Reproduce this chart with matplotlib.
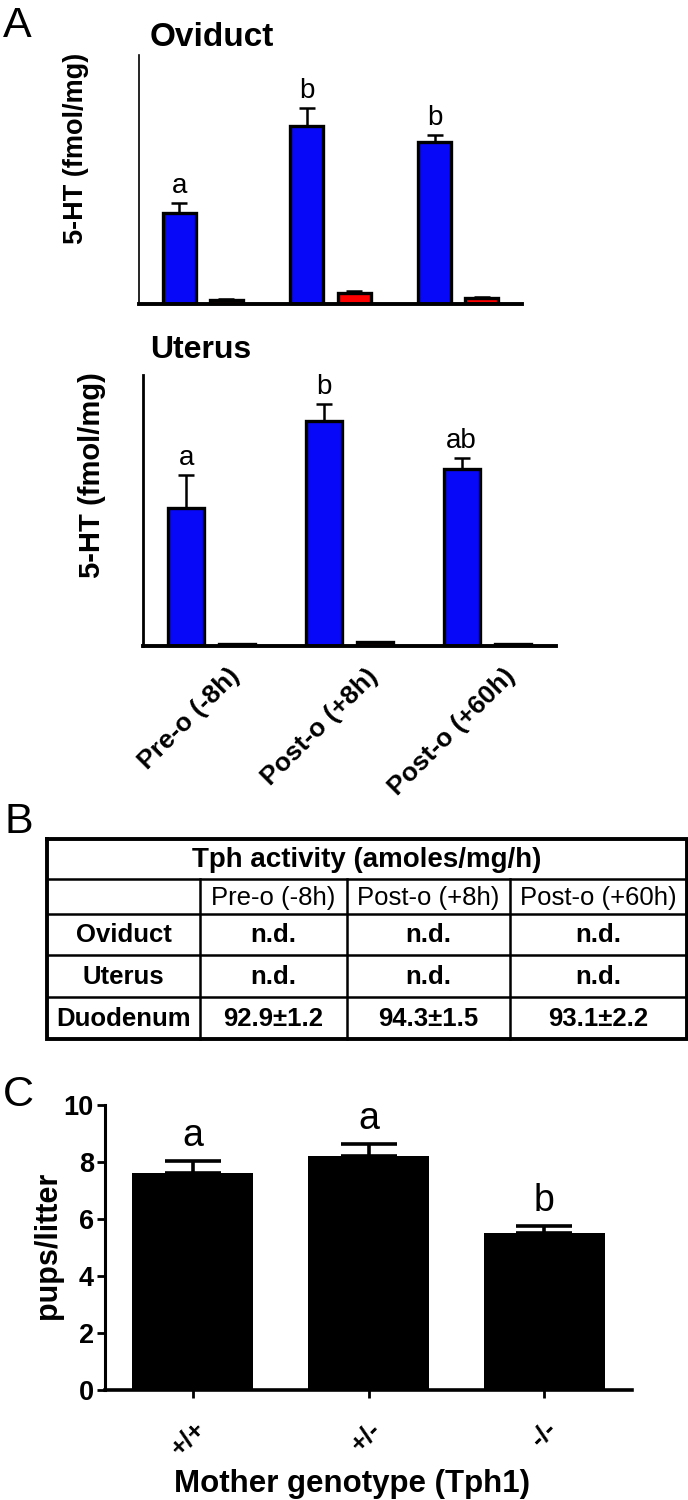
import numpy as np
import matplotlib
matplotlib.use("Agg")
import matplotlib.pyplot as plt
from matplotlib.transforms import ScaledTranslation

plt.rcParams['font.family'] = ['Liberation Sans', 'DejaVu Sans']

# ---------------- data ----------------
time_points = ["Pre-o (-8h)", "Post-o (+8h)", "Post-o (+60h)"]

ovi_blue = [36.5, 71.5, 65.1]
ovi_blue_err = [4.0, 7.2, 2.8]
ovi_red = [1.6, 4.3, 2.5]
ovi_red_err = [0.4, 0.9, 0.3]
ovi_letters = ["a", "b", "b"]

ute_blue = [50.9, 83.0, 65.3]
ute_blue_err = [12.2, 6.3, 4.1]
ute_red = [0.6, 1.5, 0.6]
ute_red_err = [0.0, 0.0, 0.0]
ute_letters = ["a", "b", "ab"]

table_title = "Tph activity (amoles/mg/h)"
table_cols = ["Pre-o (-8h)", "Post-o (+8h)", "Post-o (+60h)"]
table_rows = ["Oviduct", "Uterus", "Duodenum"]
table_vals = [["n.d.", "n.d.", "n.d."],
              ["n.d.", "n.d.", "n.d."],
              ["92.9\u00b11.2", "94.3\u00b11.5", "93.1\u00b12.2"]]

genotypes = ["+/+", "+/-", "-/-"]
pups = [7.6, 8.2, 5.5]
pups_err = [0.42, 0.43, 0.25]
pups_letters = ["a", "a", "b"]
pups_yticks = [0, 2, 4, 6, 8, 10]

# ---------------- layout helpers ----------------
W, H = 688, 1500
fig = plt.figure(figsize=(W / 100, H / 100), dpi=100)


def rect(l, t, r, b):
    return [l / W, 1 - b / H, (r - l) / W, (b - t) / H]


def ftext(x, y, s, **kw):
    return fig.text(x / W, 1 - y / H, s, **kw)


BLUE = '#0808F8'
RED = '#FF0000'


def panel_a(ax, blue, blue_err, red, red_err, letters, left_lw, show_labels):
    x = np.arange(len(blue))
    off, w = 0.185, 0.26
    ax.errorbar(x - off, blue, yerr=[np.zeros(len(blue)), blue_err], fmt='none',
                ecolor='black', elinewidth=1.8, capsize=5.5, capthick=1.8, zorder=1)
    ax.errorbar(x + off, red, yerr=[np.zeros(len(red)), red_err], fmt='none',
                ecolor='black', elinewidth=1.8, capsize=5.5, capthick=1.8, zorder=1)
    ax.bar(x - off, blue, w, color=BLUE, edgecolor='black', linewidth=2.4, zorder=2)
    ax.bar(x + off, red, w, color=RED, edgecolor='black', linewidth=2.4, zorder=2)
    for xi, v, e, s in zip(x, blue, blue_err, letters):
        ax.annotate(s, (xi - off, v + e), xytext=(0, 7), textcoords='offset points',
                    ha='center', va='baseline', fontsize=20)
    ax.set_xlim(-0.5, 2.5)
    ax.set_ylim(0, 100)
    ax.set_yticks([])
    for sp in ['top', 'right']:
        ax.spines[sp].set_visible(False)
    ax.spines['left'].set_linewidth(left_lw)
    ax.spines['bottom'].set_linewidth(2.8)
    if show_labels:
        ax.set_xticks(x)
        ax.set_xticklabels(time_points, rotation=45, ha='right', va='top',
                           rotation_mode='anchor', fontsize=19, fontweight='bold')
        ax.tick_params(axis='x', length=0, pad=13)
        for lab in ax.get_xticklabels():
            lab.set_transform(lab.get_transform() +
                              ScaledTranslation(16 / 100, 0, fig.dpi_scale_trans))
    else:
        ax.set_xticks([])


# ---------------- Panel A ----------------
ftext(3, 37, "A", fontsize=31, va='baseline', ha='left')

ax1 = fig.add_axes(rect(139, 55, 522, 304))
panel_a(ax1, ovi_blue, ovi_blue_err, ovi_red, ovi_red_err, ovi_letters, 1.2, False)
ftext(150, 46, "Oviduct", fontsize=24, fontweight='bold', va='baseline', ha='left')
ftext(76, 148, "5-HT (fmol/mg)", fontsize=19.5, fontweight='bold', rotation=90,
      ha='center', va='center')

ax2 = fig.add_axes(rect(143, 375, 556, 646))
panel_a(ax2, ute_blue, ute_blue_err, ute_red, ute_red_err, ute_letters, 2.0, True)
ftext(150, 358, "Uterus", fontsize=23, fontweight='bold', va='baseline', ha='left')
ftext(92, 475, "5-HT (fmol/mg)", fontsize=21, fontweight='bold', rotation=90,
      ha='center', va='center')

# ---------------- Panel B (table) ----------------
ftext(5, 833, "B", fontsize=31, va='baseline', ha='left')

axt = fig.add_axes(rect(47, 839, 687, 1039))
axt.set_xlim(0, 640)
axt.set_ylim(200, 0)
axt.axis('off')
col_edges = [0, 153, 300, 463, 640]
row_edges = [0, 40, 75, 116, 158, 200]
axt.plot([0, 640, 640, 0, 0], [0, 0, 200, 200, 0], color='black', lw=2.8,
         solid_joinstyle='miter', clip_on=False)
for yv in row_edges[1:-1]:
    axt.plot([0, 640], [yv, yv], color='black', lw=1.8, clip_on=False)
for xv in col_edges[1:-1]:
    axt.plot([xv, xv], [row_edges[1], 200], color='black', lw=1.8, clip_on=False)
axt.text(320, 21, table_title, ha='center', va='center', fontsize=20, fontweight='bold')
for j, c in enumerate(table_cols):
    axt.text((col_edges[j + 1] + col_edges[j + 2]) / 2, (row_edges[1] + row_edges[2]) / 2 + 1,
             c, ha='center', va='center', fontsize=18.5)
for i, rlab in enumerate(table_rows):
    yc = (row_edges[i + 2] + row_edges[i + 3]) / 2 + 1
    axt.text((col_edges[0] + col_edges[1]) / 2, yc, rlab, ha='center', va='center',
             fontsize=18.5, fontweight='bold')
    for j, v in enumerate(table_vals[i]):
        axt.text((col_edges[j + 1] + col_edges[j + 2]) / 2, yc, v, ha='center',
                 va='center', fontsize=18.5, fontweight='bold')

# ---------------- Panel C ----------------
ftext(3, 1106, "C", fontsize=31, va='baseline', ha='left')

ax3 = fig.add_axes(rect(105, 1105, 632, 1390))
xc = np.arange(len(pups))
ax3.errorbar(xc, pups, yerr=[np.zeros(len(pups)), pups_err], fmt='none', ecolor='black',
             elinewidth=2.6, capsize=20, capthick=2.6, zorder=1)
ax3.bar(xc, pups, 0.69, color='black', zorder=2)
for xi, v, e, s in zip(xc, pups, pups_err, pups_letters):
    ax3.annotate(s, (xi, v + e), xytext=(0, 11), textcoords='offset points',
                 ha='center', va='baseline', fontsize=27)
ax3.set_xlim(-0.5, 2.5)
ax3.set_ylim(0, 10)
ax3.set_yticks(pups_yticks)
ax3.set_yticklabels([str(t) for t in pups_yticks], fontsize=19.5, fontweight='bold')
ax3.set_xticks(xc)
ax3.set_xticklabels(genotypes, rotation=45, ha='right', va='top', rotation_mode='anchor',
                    fontsize=19, fontweight='bold')
for lab in ax3.get_xticklabels():
    lab.set_transform(lab.get_transform() +
                      ScaledTranslation(8 / 100, 0, fig.dpi_scale_trans))
ax3.tick_params(axis='both', length=6, width=2, direction='out')
ax3.tick_params(axis='x', pad=13)
ax3.tick_params(axis='y', pad=2)
for sp in ['top', 'right']:
    ax3.spines[sp].set_visible(False)
ax3.spines['left'].set_linewidth(2.2)
ax3.spines['bottom'].set_linewidth(2.6)
ftext(48, 1245, "pups/litter", fontsize=22, fontweight='bold', rotation=90,
      ha='center', va='center')
ftext(352, 1484, "Mother genotype (Tph1)", fontsize=22.5, fontweight='bold',
      ha='center', va='center')

fig.savefig("out.png", dpi=100)
